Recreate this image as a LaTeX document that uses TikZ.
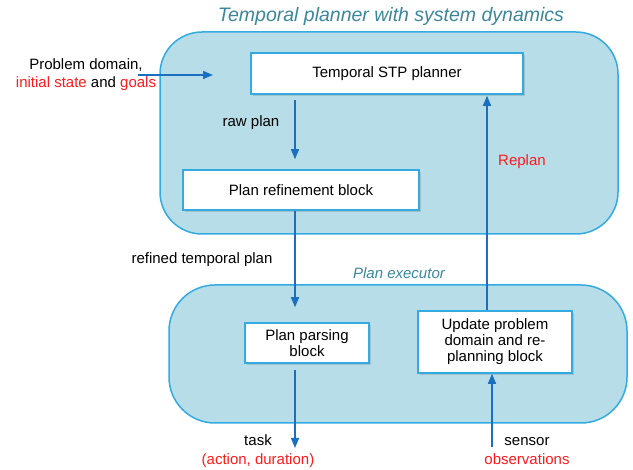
\documentclass[tikz,border=0pt]{standalone}
\usepackage{fontspec}
\setmainfont{Liberation Sans}
\usetikzlibrary{arrows.meta,shadows}
\definecolor{contfill}{HTML}{B7DDE8}
\definecolor{contborder}{HTML}{33AAE2}
\definecolor{arrowblue}{HTML}{1A6FBF}
\definecolor{titleteal}{HTML}{3A879C}
\definecolor{labelred}{HTML}{FF1A1A}
\begin{document}
\begin{tikzpicture}[x=1pt,y=-1pt,
  font=\fontsize{15}{18}\selectfont,
  container/.style={draw=contborder, line width=1.5pt, fill=contfill, rounded corners=42pt},
  blockbox/.style={draw=contborder, line width=1.6pt, fill=white, align=center,
    inner sep=0pt, font=\fontsize{15}{16}\selectfont,
    drop shadow={shadow xshift=2pt, shadow yshift=-2pt, opacity=0.3, fill=gray}},
  arr/.style={draw=arrowblue, line width=1.4pt, -{Triangle[length=10pt,width=8pt]}},
  lbl/.style={align=center, inner sep=0pt},
  red/.style={text=labelred}
]
\useasboundingbox (0,0) rectangle (633,470);

% containers
\node[container, minimum width=458pt, minimum height=202pt] (top) at (389,133) {};
\node[container, minimum width=458pt, minimum height=138pt, rounded corners=46pt] (bottom) at (398,354) {};

% titles
\node[lbl, text=titleteal, font=\fontsize{19.5}{22}\selectfont\itshape] (title) at (391,16) {Temporal planner with system dynamics};
\node[lbl, text=titleteal, font=\fontsize{15}{18}\selectfont\itshape] (exectitle) at (399,273) {Plan executor};

% blocks
\node[blockbox, minimum width=272pt, minimum height=41pt] (stp) at (387,73.5) {Temporal STP planner};
\node[blockbox, minimum width=236pt, minimum height=40pt] (refine) at (301,190) {Plan refinement block};
\node[blockbox, minimum width=124pt, minimum height=40pt] (parse) at (307,343) {Plan parsing\\block};
\node[blockbox, minimum width=154pt, minimum height=62pt] (update) at (495,342) {Update problem\\domain and re-\\planning block};

% helper coordinates
\coordinate (colL) at (295,0);
\coordinate (colR) at (487,0);
\coordinate (colS) at (492,0);
\coordinate (inStart) at (138,75);
\coordinate (inEnd) at (213,75);
\coordinate (taskEnd) at (295,448);
\coordinate (sensStart) at (492,447);

% connectors
\draw[arr] (inStart) -- (inEnd);
\draw[arr, shorten <=5pt, shorten >=10pt] (stp.south -| colL) -- (refine.north -| colL);
\draw[arr, shorten >=15pt] (refine.south -| colL) -- (parse.north -| colL);
\draw[arr, shorten <=6pt] (parse.south -| colL) -- (taskEnd);
\draw[arr, shorten >=1pt] (update.north -| colR) -- (stp.south -| colR);
\draw[arr] (sensStart) -- (update.south -| colS);

% labels
\node[lbl, font=\fontsize{15}{17.5}\selectfont] (inlabel) at (86,74.5) {Problem domain,\\{\color{labelred}initial state} and {\color{labelred}goals}};
\node[lbl] (rawlbl) at (251,123) {raw plan};
\node[lbl, red] (replanlbl) at (522,162) {Replan};
\node[lbl] (reflbl) at (202,260) {refined temporal plan};
\node[lbl, font=\fontsize{15}{19}\selectfont] (tasklbl) at (258,451.5) {task\\{\color{labelred}(action, duration)}};
\node[lbl, font=\fontsize{15}{19}\selectfont] (senslbl) at (527,451.5) {sensor\\{\color{labelred}observations}};
\end{tikzpicture}
\end{document}
